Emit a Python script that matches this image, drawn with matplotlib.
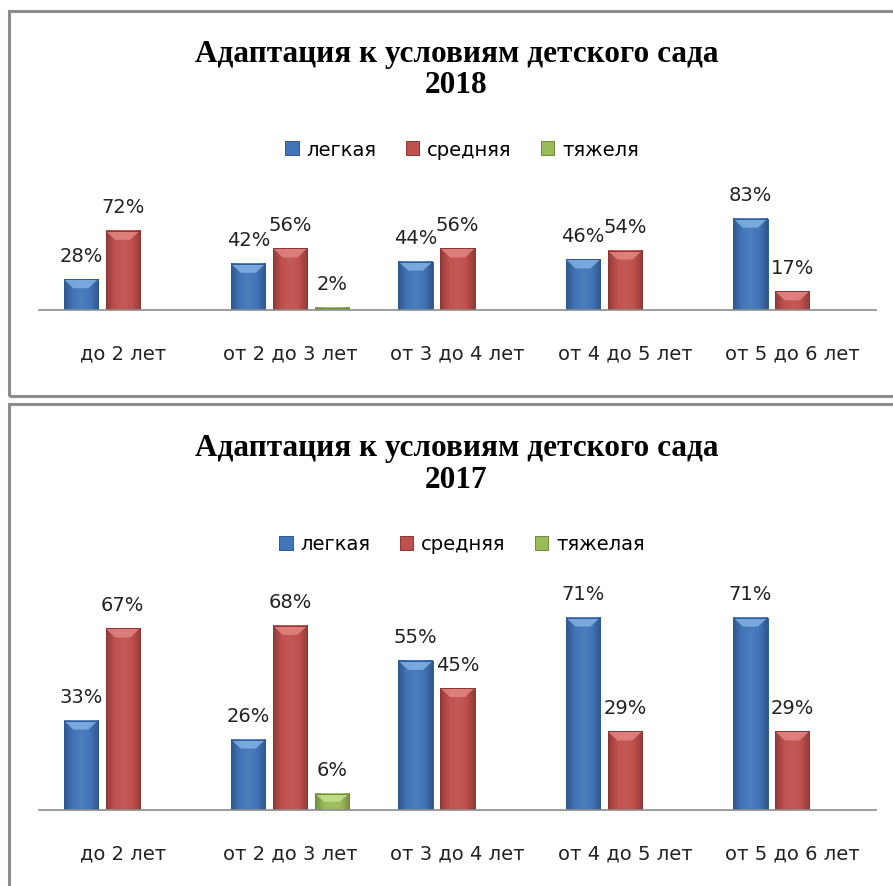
import matplotlib
matplotlib.use('Agg')
import matplotlib.pyplot as plt
import numpy as np
from matplotlib.patches import Rectangle, Polygon, Patch
from matplotlib.colors import LinearSegmentedColormap, to_rgb

# ---------------- data ----------------
categories = ['до 2 лет', 'от 2 до 3 лет', 'от 3 до 4 лет', 'от 4 до 5 лет', 'от 5 до 6 лет']
title_main = 'Адаптация к условиям детского сада'
years = ['2018', '2017']

series_names_2018 = ['легкая', 'средняя', 'тяжеля']
light_2018 = [28, 42, 44, 46, 83]
medium_2018 = [72, 56, 56, 54, 17]
heavy_2018 = [0, 2, 0, 0, 0]

series_names_2017 = ['легкая', 'средняя', 'тяжелая']
light_2017 = [33, 26, 55, 71, 71]
medium_2017 = [67, 68, 45, 29, 29]
heavy_2017 = [0, 6, 0, 0, 0]

# ---------------- style ----------------
W, H = 893, 887
fig = plt.figure(figsize=(W / 100, H / 100), dpi=100)
fig.patch.set_facecolor('white')

def fx(px):
    return px / W

def fy(py):
    return 1 - py / H

main_colors = ['#4175B8', '#C0504D', '#9BBB59']
light_colors = ['#86B4E8', '#E58986', '#C9E28F']
edge_colors = ['#2D5A94', '#8E3532', '#6F8A3A']

label_font = 'DejaVu Sans'
title_font = 'Liberation Serif'

def shade(c, f):
    r, g, b = to_rgb(c)
    if f < 1:
        return (r * f, g * f, b * f)
    return (r + (1 - r) * (f - 1), g + (1 - g) * (f - 1), b + (1 - b) * (f - 1))

panels = [
    dict(year=years[0], names=series_names_2018,
         values=[light_2018, medium_2018, heavy_2018],
         frame_top=12, frame_bottom=397, baseline=311, ymax=100, plot_h=110,
         title_base=(62, 93), legend_y=150),
    dict(year=years[1], names=series_names_2017,
         values=[light_2017, medium_2017, heavy_2017],
         frame_top=405, frame_bottom=1000, baseline=811, ymax=80, plot_h=216.8,
         title_base=(456, 488), legend_y=545),
]

ax_left, ax_right = 39, 876
offsets = [-0.25, 0.0, 0.25]
bar_w = 0.205
x = np.arange(len(categories))

for p in panels:
    # frame
    fig.add_artist(Rectangle((fx(9), fy(p['frame_bottom'])), fx(920) - fx(9),
                             fy(p['frame_top']) - fy(p['frame_bottom']),
                             transform=fig.transFigure, fill=False,
                             edgecolor='#8C8C8C', linewidth=2.2, zorder=10))

    ax = fig.add_axes([fx(ax_left), fy(p['baseline']), fx(ax_right) - fx(ax_left),
                       p['plot_h'] / H])
    ax.set_xlim(-0.5, len(categories) - 0.5)
    ax.set_ylim(0, p['ymax'])
    px_per_unit = p['plot_h'] / p['ymax']

    for s, vals in enumerate(p['values']):
        xs = x + offsets[s]
        bars = ax.bar(xs, vals, bar_w, color=main_colors[s], edgecolor='none', zorder=2)
        cm = LinearSegmentedColormap.from_list(
            'g', [shade(main_colors[s], 0.75), main_colors[s], shade(main_colors[s], 1.06),
                  main_colors[s], shade(main_colors[s], 0.75)])
        grad = np.linspace(0, 1, 64).reshape(1, -1)
        for b, v in zip(bars, vals):
            if v <= 0:
                continue
            x0, w, h = b.get_x(), b.get_width(), b.get_height()
            ax.imshow(grad, extent=[x0, x0 + w, 0, h], aspect='auto', cmap=cm,
                      interpolation='bicubic', zorder=2.1)
            bev = min(9.0 / px_per_unit, h * 0.5)
            poly = Polygon([[x0, h], [x0 + w, h], [x0 + 0.72 * w, h - bev],
                            [x0 + 0.28 * w, h - bev]], closed=True,
                           facecolor=light_colors[s], edgecolor='none', alpha=0.8,
                           zorder=2.2)
            ax.add_patch(poly)
            ax.annotate(f'{v}%', (b.get_x() + w / 2, h), xytext=(0, 17.3),
                        textcoords='offset points', ha='center', va='center',
                        fontsize=14, family=label_font, color='#222222', zorder=4)
        ax.bar(xs, [v if v > 0 else np.nan for v in vals], bar_w, fill=False,
               edgecolor=edge_colors[s], linewidth=0.7, zorder=3)

    ax.set_xlim(-0.5, len(categories) - 0.5)
    ax.set_ylim(0, p['ymax'])
    for sp in ['top', 'right', 'left']:
        ax.spines[sp].set_visible(False)
    ax.spines['bottom'].set_color('#8C8C8C')
    ax.spines['bottom'].set_linewidth(1.2)
    ax.spines['bottom'].set_zorder(5)
    ax.set_yticks([])
    ax.set_xticks(x)
    ax.set_xticklabels(categories, fontsize=14, family=label_font, color='#222222')
    ax.tick_params(axis='x', length=0, pad=24)
    ax.patch.set_alpha(0)

    # title
    cx = fx((ax_left + ax_right) / 2 - 1)
    fig.text(cx, fy(p['title_base'][0]), title_main, ha='center', va='baseline',
             fontsize=22.5, fontweight='bold', family=title_font, color='black')
    fig.text(cx, fy(p['title_base'][1]), p['year'], ha='center', va='baseline',
             fontsize=22.5, fontweight='bold', family=title_font, color='black')

    # legend
    handles = [Patch(facecolor=main_colors[i], edgecolor=edge_colors[i], linewidth=0.7)
               for i in range(3)]
    fig.legend(handles, p['names'], loc='center', bbox_to_anchor=(fx(462), fy(p['legend_y'])),
               bbox_transform=fig.transFigure, ncol=3, frameon=False,
               handlelength=0.7, handleheight=0.7, handletextpad=0.4,
               columnspacing=1.5, prop={'family': label_font, 'size': 14})

fig.savefig('out.png', dpi=100, facecolor='white')
